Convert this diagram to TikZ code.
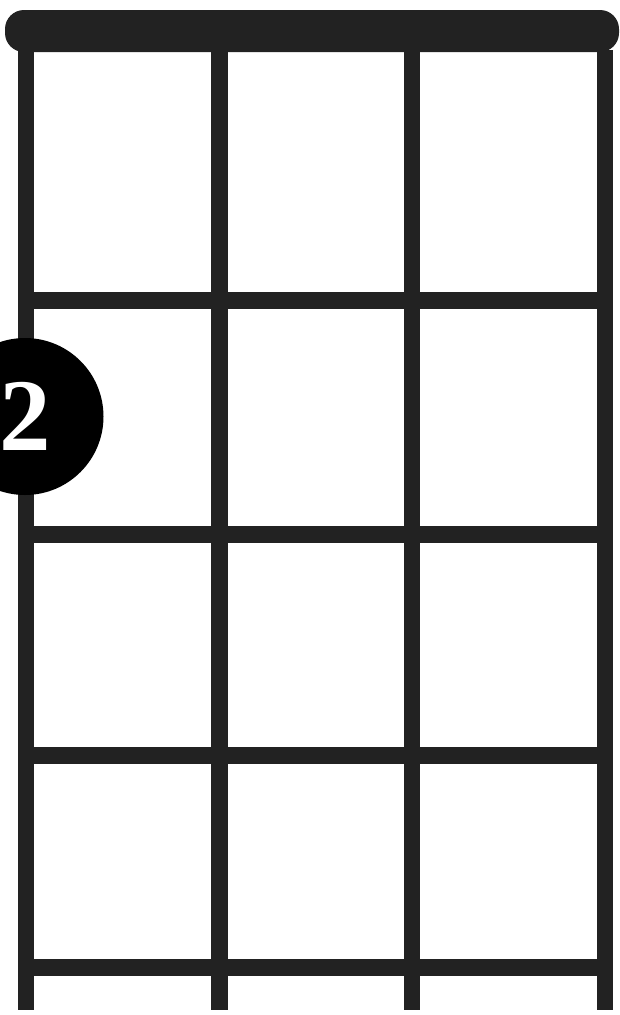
\documentclass[tikz,border=0pt]{standalone}
\usepackage{fontspec}
\newfontfamily\digitfont{Liberation Serif}
\definecolor{fretgrey}{HTML}{222222}
\begin{document}
\begin{tikzpicture}[x=1pt,y=-1pt,
  stringline/.style={draw=fretgrey,line width=16.5pt},
  fretline/.style={draw=fretgrey,line width=17pt},
  nutbar/.style={fill=fretgrey,rounded corners=19pt},
  fingerdot/.style={circle,fill=black,minimum size=157pt,inner sep=0pt,text=white,font=\digitfont\bfseries\fontsize{103}{103}\selectfont}]
\useasboundingbox (0,0) rectangle (620,1015);
% strings
\foreach \n/\x in {1/26,2/219.5,3/412,4/605}{
  \coordinate (s\n top) at (\x,50);
  \coordinate (s\n bot) at (\x,1010);
  \draw[stringline] (s\n top) -- (s\n bot);
}
% frets
\foreach \n/\y in {1/300,2/534,3/755.5,4/967}{
  \coordinate (f\n l) at (26,\y);
  \coordinate (f\n r) at (605,\y);
  \draw[fretline] (f\n l) -- (f\n r);
}
% nut
\fill[nutbar] (5,10) rectangle (619,52);
% finger dot
\node[fingerdot] (dot) at (25,416.5) {\raisebox{-0.5pt}{2}};
\end{tikzpicture}
\end{document}
